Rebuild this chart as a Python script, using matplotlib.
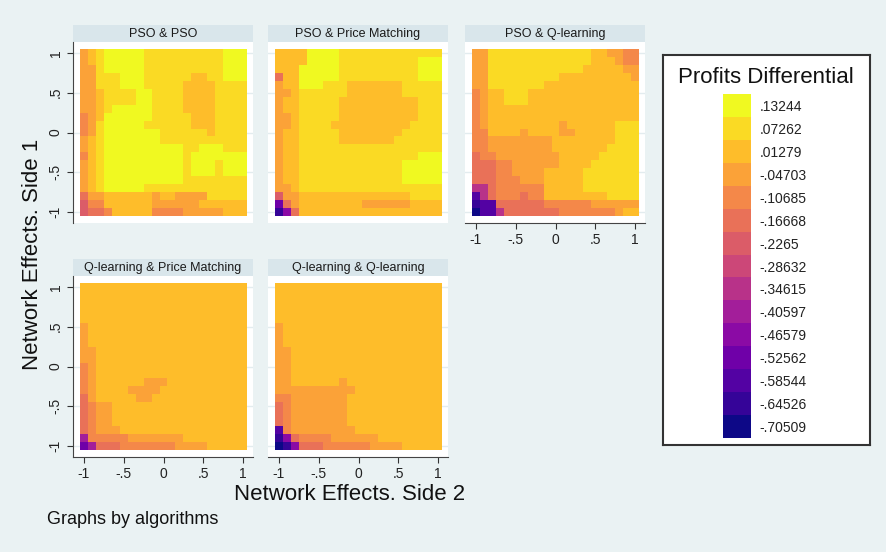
import numpy as np
import matplotlib
matplotlib.use("Agg")
import matplotlib.pyplot as plt
from matplotlib.colors import ListedColormap, BoundaryNorm

plt.rcParams['font.family'] = ['Liberation Sans', 'DejaVu Sans']

# legend levels, top (yellow) to bottom (navy)
levels = [0.13244, 0.07262, 0.01279, -0.04703, -0.10685, -0.16668, -0.2265,
          -0.28632, -0.34615, -0.40597, -0.46579, -0.52562, -0.58544,
          -0.64526, -0.70509]
grid_vals = np.round(np.arange(-1, 1.0001, 0.1), 1)   # network effects, 21 steps

# each row is one value of Side 1 (top = 1), each char a level index (0..e)
pso_pso = [
    "321000001111111111000", "321000001111111111000", "331000001111111111000",
    "331110001111112211000", "331110001111122221111", "332111100111122221111",
    "332111100111122221111", "332100000111122221111", "432000000111112221111",
    "431000001111112221111", "431000000011111121111", "321000000011111111111",
    "321000000000011000111", "421000000000010000000", "321000000000010001000",
    "321000000000010001000", "321000000000011111111", "321000001111111111111",
    "533222222322333311111", "644222222333333222222", "655422222444433333222",
]
pso_pm = [
    "222200001111111111111", "222200001111111111000", "222000001111111111000",
    "522000001111111111000", "322000111222222211111", "332111111222222211111",
    "322111112222222222111", "322111112222222222111", "332111112222222222111",
    "332111122222222221111", "322111112222222211111", "322111112222222111111",
    "322111111111111111111", "322111111111111111000", "322111111111111100000",
    "322111111111111100000", "322111111111111100000", "332111111111111111111",
    "633222222222222221111", "b53222222223333332222", "da5222222222222222222",
]
pso_q = [
    "331111111111111223344", "331111111111111222344", "331111111111112222233",
    "331111111112222222223", "331111111222222222222", "432211122222222222222",
    "432211122222222222222", "432222222222222222222", "432222222222222222222",
    "432222222223222222111", "442222322223322222111", "443333333322222222111",
    "443333333322222221111", "544333333332222211111", "555443333332222111111",
    "555443333222221111111", "555444333222221111111", "885444444222221111111",
    "c85444544222222221111", "dcc555555444444333333", "ecc855555554444444322",
]
q_pm = [
    "222222222222222222222", "222222222222222222222", "222222222222222222222",
    "222222222222222222222", "222222222222222222222", "322222222222222222222",
    "322222222222222222222", "322222222222222222222", "332222222222222222222",
    "332222222222222222222", "432222222222222222222", "432222222222222222222",
    "432222223332222222222", "432222333322222222222", "532222233222222222222",
    "543322222222222222222", "543322222222222222222", "543322222222222222222",
    "543332222222222222222", "944444333333322222222", "b95554444444333322222",
]
q_q = [
    "222222222222222222222", "222222222222222222222", "222222222222222222222",
    "222222222222222222222", "222222222222222222222", "322222222222222222222",
    "322222222222222222222", "322222222222222222222", "332222222222222222222",
    "332222222222222222222", "332222222222222222222", "332222222222222222222",
    "332222223222222222222", "333333333322222222222", "443333333222222222222",
    "543333333222222222222", "543333333222222222222", "543333333222222222222",
    "c43333333322222222222", "da5444433333322222222", "eda555444444333322222",
]

titles = ["PSO & PSO", "PSO & Price Matching", "PSO & Q-learning",
          "Q-learning & Price Matching", "Q-learning & Q-learning"]
tables = [pso_pso, pso_pm, pso_q, q_pm, q_q]

W, H = 886, 552
def box(x0, y0, x1, y1):
    return [x0 / W, 1 - y1 / H, (x1 - x0) / W, (y1 - y0) / H]

step = levels[0] - levels[1]
asc = np.array(levels[::-1])
cmap = ListedColormap(plt.cm.plasma(np.linspace(0, 1, len(levels))))
norm = BoundaryNorm(np.append(asc - step / 2, asc[-1] + step / 2), cmap.N)

def fmt(v):
    s = f"{v:g}"
    return s.replace("0.", ".") if abs(v) < 1 else s

def to_values(rows):
    idx = np.array([[int(c, 16) for c in r] for r in rows])
    return np.array(levels)[idx][::-1]   # bottom row first

fig = plt.figure(figsize=(W / 100, H / 100), dpi=100)
fig.patch.set_facecolor('#EAF2F3')

# (x0, y0) of the white plot regions in pixels
corners = [(73, 42), (268, 42), (465, 42), (73, 276), (268, 276)]
show_y = [True, False, False, True, False]
show_x = [False, False, True, True, True]
edges = np.append(grid_vals - 0.05, grid_vals[-1] + 0.05)
ticks = [-1, -0.5, 0, 0.5, 1]
tick_lbls = ["-1", "-.5", "0", ".5", "1"]

for k in range(5):
    x0, y0 = corners[k]
    # title strip
    tb = fig.add_axes(box(x0, y0 - 17, x0 + 180, y0))
    tb.set_facecolor('#D9E6EB')
    tb.set_xticks([]); tb.set_yticks([])
    for s in tb.spines.values():
        s.set_visible(False)
    tb.text(0.5, 0.48, titles[k], ha='center', va='center', fontsize=9,
            color='#1a1a1a', transform=tb.transAxes)

    ax = fig.add_axes(box(x0, y0, x0 + 180, y0 + 181))
    ax.set_facecolor('white')
    ax.pcolormesh(edges, edges, to_values(tables[k]), cmap=cmap, norm=norm,
                  shading='flat', zorder=2)
    ax.set_xlim(-1.138, 1.125)
    ax.set_ylim(-1.138, 1.138)
    ax.set_xticks(ticks)
    ax.set_yticks(ticks)
    ax.grid(axis='y', color='#E3ECEF', lw=1.0, zorder=0)
    ax.set_axisbelow(True)
    for s in ax.spines.values():
        s.set_visible(False)
    ax.tick_params(colors='#333333', labelcolor='#222222', labelsize=10,
                   length=4, width=0.8)
    if show_y[k]:
        ax.spines['left'].set_visible(True)
        ax.spines['left'].set_color('#444444')
        ax.set_yticklabels(tick_lbls, rotation=90, va='center')
    else:
        ax.tick_params(axis='y', left=False, labelleft=False)
    if show_x[k]:
        ax.spines['bottom'].set_visible(True)
        ax.spines['bottom'].set_color('#444444')
        ax.set_xticklabels(tick_lbls)
    else:
        ax.tick_params(axis='x', bottom=False, labelbottom=False)

# legend box
lg = fig.add_axes(box(663, 55, 870, 445))
lg.set_facecolor('white')
lg.set_xticks([]); lg.set_yticks([])
for s in lg.spines.values():
    s.set_color('#333333'); s.set_linewidth(1.5)
fig.text(766 / W, 1 - 77 / H, "Profits Differential", ha='center',
         va='center', fontsize=16, color='#111111')

cb = fig.add_axes(box(723, 94, 751, 438))
cb.pcolormesh([0, 1], np.arange(len(asc) + 1), asc.reshape(-1, 1),
              cmap=cmap, norm=norm)
cb.set_xlim(0, 1); cb.set_ylim(0, len(asc))
cb.set_xticks([])
cb.yaxis.tick_right()
cb.set_yticks(np.arange(len(asc)) + 0.5)
cb.set_yticklabels([fmt(v) for v in asc])
cb.tick_params(axis='y', length=0, pad=6, labelsize=10, labelcolor='#222222')
for s in cb.spines.values():
    s.set_visible(False)

fig.text(33 / W, 1 - 254 / H, "Network Effects. Side 1", rotation=90,
         ha='center', va='center', fontsize=16, color='#111111')
fig.text(350 / W, 1 - 494 / H, "Network Effects. Side 2", ha='center',
         va='center', fontsize=16, color='#111111')
fig.text(47 / W, 1 - 519 / H, "Graphs by algorithms", ha='left',
         va='center', fontsize=13, color='#111111')

fig.savefig("out.png", dpi=100, facecolor=fig.get_facecolor())
